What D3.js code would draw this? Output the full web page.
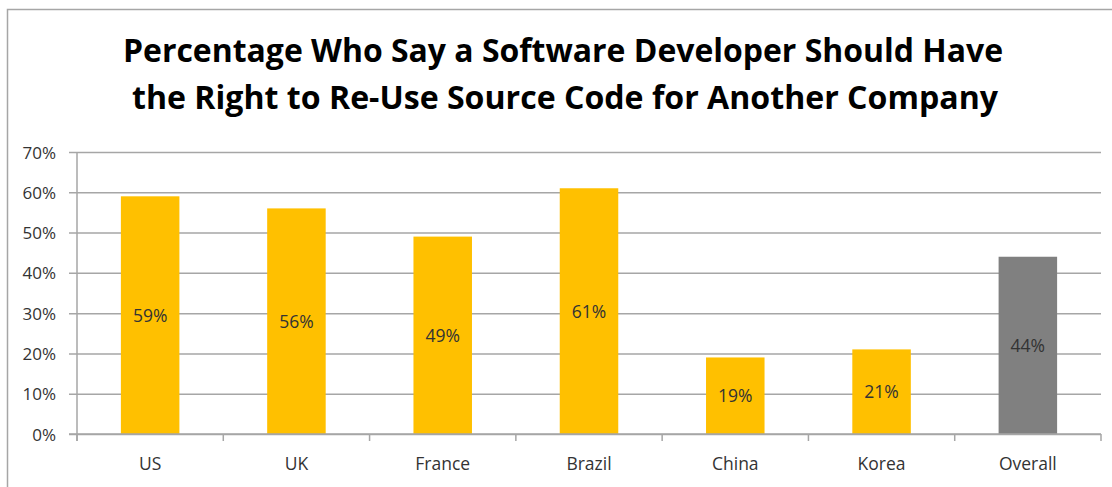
<!DOCTYPE html>
<html><head><meta charset="utf-8">
<script src="https://cdn.jsdelivr.net/npm/d3@7"></script>
<style>
html,body{margin:0;padding:0;background:#fff;}
svg{display:block;}
</style></head>
<body>
<svg id="chart" width="1112" height="487"></svg>
<script>
const categories = ["US","UK","France","Brazil","China","Korea","Overall"];
const values = [0.59,0.56,0.49,0.61,0.19,0.21,0.44];
const barColors = ["#FFC000","#FFC000","#FFC000","#FFC000","#FFC000","#FFC000","#808080"];
const yTicks = [0,0.1,0.2,0.3,0.4,0.5,0.6,0.7];
const titleLines = ["Percentage Who Say a Software Developer Should Have","the Right to Re-Use Source Code for Another Company"];

(function(){
const svg = d3.select("#chart");
const font = "'Open Sans', sans-serif";

// outer border
svg.append("rect").attr("x",7.5).attr("y",9.5).attr("width",1200).attr("height",600)
  .attr("fill","none").attr("stroke","#A6A6A6").attr("stroke-width",1.5);

const pLeft = 77, pRight = 1101, pTop = 152, pBottom = 434;
const x = d3.scaleBand().domain(categories).range([pLeft,pRight]).paddingInner(0.6).paddingOuter(0.3);
const y = d3.scaleLinear().domain([0,0.7]).range([pBottom,pTop]);

// title
const titleWidths = [880, 866];
const titleCenters = [563, 565];
svg.selectAll("text.title").data(titleLines).join("text").attr("class","title")
  .attr("x",(d,i)=>titleCenters[i]).attr("y",(d,i)=>62+i*47)
  .attr("text-anchor","middle").attr("font-family",font)
  .attr("font-weight","bold").attr("font-size",32).attr("fill","#000")
  .attr("textLength",(d,i)=>titleWidths[i]).attr("lengthAdjust","spacingAndGlyphs")
  .text(d=>d);

// gridlines + y axis
const yAxis = d3.axisLeft(y).tickValues(yTicks).tickFormat(d3.format(".0%"))
  .tickSize(-(pRight-pLeft)).tickSizeOuter(0);
const gy = svg.append("g").attr("transform",`translate(${pLeft},0)`).call(yAxis);
gy.select(".domain").remove();
gy.selectAll(".tick line").attr("x1",-8).attr("stroke","#A6A6A6").attr("stroke-width",1.5);
gy.selectAll(".tick text").attr("x",-21).attr("dy","0.36em").attr("font-family",font).attr("font-size",17).attr("fill","#333");

// bars
svg.selectAll("rect.bar").data(categories).join("rect").attr("class","bar")
  .attr("x",d=>x(d)).attr("width",x.bandwidth())
  .attr("y",(d,i)=>y(values[i])).attr("height",(d,i)=>pBottom-y(values[i]))
  .attr("fill",(d,i)=>barColors[i]);

// axis lines
svg.append("line").attr("x1",pLeft).attr("x2",pLeft).attr("y1",pTop).attr("y2",pBottom+7)
  .attr("stroke","#A6A6A6").attr("stroke-width",1.5);
svg.append("line").attr("x1",pLeft-8).attr("x2",pRight).attr("y1",pBottom).attr("y2",pBottom)
  .attr("stroke","#A6A6A6").attr("stroke-width",1.5);
// category boundary ticks
const boundaries = categories.map((c,i)=> i===0 ? pLeft : x(c) - x.step()*x.paddingInner()/2).concat([pRight]);
svg.selectAll("line.xt").data(boundaries).join("line").attr("class","xt")
  .attr("x1",d=>d).attr("x2",d=>d).attr("y1",pBottom).attr("y2",pBottom+7)
  .attr("stroke","#A6A6A6").attr("stroke-width",1.5);

// category labels
svg.selectAll("text.cat").data(categories).join("text").attr("class","cat")
  .attr("x",d=>x(d)+x.bandwidth()/2).attr("y",470)
  .attr("text-anchor","middle").attr("font-family",font).attr("font-size",17.5).attr("fill","#333")
  .text(d=>d);

// data labels
svg.selectAll("text.val").data(categories).join("text").attr("class","val")
  .attr("x",d=>x(d)+x.bandwidth()/2).attr("y",(d,i)=>(y(values[i])+pBottom)/2)
  .attr("dy","0.38em").attr("text-anchor","middle").attr("font-family",font).attr("font-size",17.5).attr("fill","#333")
  .text((d,i)=>d3.format(".0%")(values[i]));
})();
</script>
</body></html>
